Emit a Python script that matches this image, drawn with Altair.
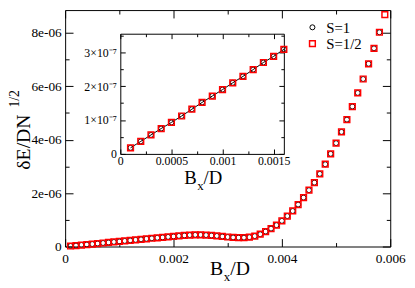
import altair as alt
import pandas as pd

# ---------------- data ----------------
bx_main = [0.0001, 0.0002, 0.0003, 0.0004, 0.0005, 0.0006, 0.0007, 0.0008, 0.0009, 0.0010,
           0.0011, 0.0012, 0.0013, 0.0014, 0.0015, 0.0016, 0.0017, 0.0018, 0.0019, 0.0020,
           0.0021, 0.0022, 0.0023, 0.0024, 0.0025, 0.0026, 0.0027, 0.0028, 0.0029, 0.0030,
           0.0031, 0.0032, 0.0033, 0.0034, 0.0035, 0.0036, 0.0037, 0.0038, 0.0039, 0.0040,
           0.0041, 0.0042, 0.0043, 0.0044, 0.0045, 0.0046, 0.0047, 0.0048, 0.0049, 0.0050,
           0.0051, 0.0052, 0.0053, 0.0054, 0.0055, 0.0056, 0.0057, 0.0058, 0.0059]
# dE/DN^(1/2) in units of 1e-6
de_half = [0.019, 0.037, 0.056, 0.075, 0.093, 0.112, 0.132, 0.152, 0.171, 0.190,
           0.210, 0.229, 0.249, 0.270, 0.288, 0.309, 0.326, 0.343, 0.360, 0.378,
           0.397, 0.414, 0.428, 0.436, 0.436, 0.428, 0.414, 0.396, 0.376, 0.356,
           0.340, 0.330, 0.332, 0.350, 0.39, 0.46, 0.56, 0.67, 0.80, 0.96,
           1.14, 1.33, 1.57, 1.83, 2.11, 2.39, 2.72, 3.08, 3.47, 3.87,
           4.29, 4.75, 5.24, 5.75, 6.27, 6.84, 7.42, 8.02, 8.68]
de_one = de_half[:58]
bx_one = bx_main[:58]

bx_inset = [0.0001, 0.0002, 0.0003, 0.0004, 0.0005, 0.0006, 0.0007, 0.0008,
            0.0009, 0.0010, 0.0011, 0.0012, 0.0013, 0.0014, 0.0015, 0.0016]
# in units of 1e-7
de_inset = [0.18, 0.37, 0.56, 0.75, 0.93, 1.12, 1.32, 1.52,
            1.71, 1.90, 2.10, 2.29, 2.49, 2.70, 2.88, 3.09]

series_names = ["S=1", "S=1/2"]

main_x_major = [0, 0.002, 0.004, 0.006]
main_x_all = [0, 0.001, 0.002, 0.003, 0.004, 0.005, 0.006]
main_y_major = [0, 2, 4, 6, 8]
main_y_all = [0, 1, 2, 3, 4, 5, 6, 7, 8]
in_x_major = [0, 0.0005, 0.001, 0.0015]
in_x_all = [0, 0.00025, 0.0005, 0.00075, 0.001, 0.00125, 0.0015]
in_y_major = [0, 1, 2, 3]
in_y_all = [0, 0.5, 1, 1.5, 2, 2.5, 3, 3.5]

main_df = pd.DataFrame({
    "bx": bx_one + bx_main,
    "dE": de_one + de_half,
    "series": [series_names[0]] * len(bx_one) + [series_names[1]] * len(bx_main),
})
inset_df = pd.DataFrame({"bx": bx_inset, "dE": de_inset})
legend_df = pd.DataFrame({"series": series_names})

# ---------------- layout ----------------
W, H = 330, 240
FONT = "Liberation Serif"
IX0, IX1 = 56, 222      # inset frame (plot px)
IY0, IY1 = 24, 146

xs_main = alt.Scale(domain=[0, 0.006], nice=False, zero=False)
ys_main = alt.Scale(domain=[0, 8.85], nice=False, zero=False)
xs_in = alt.Scale(domain=[0, 0.0016], range=[IX0, IX1], nice=False, zero=False)
ys_in = alt.Scale(domain=[0, 3.55], range=[IY1, IY0], nice=False, zero=False)

shape_scale = alt.Scale(domain=series_names, range=["circle", "square"])
color_scale = alt.Scale(domain=series_names, range=["black", "red"])
size_scale = alt.Scale(domain=series_names, range=[26, 34])
sw_scale = alt.Scale(domain=series_names, range=[1.0, 1.5])


def tick_axis(orient, offset, values, test, big, small, domain=False):
    return alt.Axis(orient=orient, offset=offset, values=values, labels=False,
                    title=None, grid=False, domain=domain, domainColor="black",
                    domainWidth=1, tickColor="black", tickWidth=1,
                    tickSize={"condition": {"test": test, "value": big}, "value": small})


mx_test = "round(datum.value*1000) % 2 == 0"
my_test = "round(datum.value) % 2 == 0"
ix_test = "round(datum.value*4000) % 2 == 0"
iy_test = "round(datum.value*2) % 2 == 0"

main_pts = alt.Chart(main_df).mark_point(filled=False, opacity=1).encode(
    x=alt.X("bx:Q", scale=xs_main,
            axis=alt.Axis(orient="bottom", values=main_x_major, format="~f", ticks=False,
                          domain=False, grid=False, title=None, labelFont=FONT,
                          labelFontSize=13.5, labelColor="black", labelPadding=5,
                          labelFlush=False, labelOverlap=False)),
    y=alt.Y("dE:Q", scale=ys_main,
            axis=alt.Axis(orient="left", values=main_y_major,
                          labelExpr="datum.value == 0 ? '0' : datum.value + 'e-06'",
                          ticks=False, domain=False, grid=False, title=None,
                          labelFont=FONT, labelFontSize=13.5, labelColor="black",
                          labelPadding=4, labelFlush=False, labelOverlap=False)),
    shape=alt.Shape("series:N", scale=shape_scale, legend=None),
    color=alt.Color("series:N", scale=color_scale, legend=None),
    size=alt.Size("series:N", scale=size_scale, legend=None),
    strokeWidth=alt.StrokeWidth("series:N", scale=sw_scale, legend=None),
)

main_ticks_a = alt.Chart(main_df).mark_point(opacity=0).encode(
    x=alt.X("bx:Q", scale=xs_main, axis=tick_axis("top", -H, main_x_all, mx_test, 8, 4)),
    y=alt.Y("dE:Q", scale=ys_main, axis=tick_axis("right", -W, main_y_all, my_test, 8, 4)),
)
main_ticks_b = alt.Chart(main_df).mark_point(opacity=0).encode(
    x=alt.X("bx:Q", scale=xs_main, axis=tick_axis("bottom", -H, main_x_all, mx_test, 8, 4)),
    y=alt.Y("dE:Q", scale=ys_main, axis=tick_axis("left", -W, main_y_all, my_test, 8, 4)),
)

# legend drawn from the series list
leg_y = alt.Y("series:N", scale=alt.Scale(type="point", domain=series_names, range=[17.5, 34],
                                          padding=0), axis=None)
legend_sym = alt.Chart(legend_df).mark_point(filled=False, opacity=1).encode(
    x=alt.value(251), y=leg_y,
    shape=alt.Shape("series:N", scale=shape_scale, legend=None),
    color=alt.Color("series:N", scale=color_scale, legend=None),
    size=alt.Size("series:N", scale=size_scale, legend=None),
    strokeWidth=alt.StrokeWidth("series:N", scale=sw_scale, legend=None),
)
legend_txt = alt.Chart(legend_df).mark_text(
    font=FONT, fontSize=15, color="black", align="left", baseline="middle", dy=1
).encode(x=alt.value(265), y=leg_y, text="series:N")

inset_line = alt.Chart(inset_df).mark_line(color="black", strokeWidth=1).encode(
    x=alt.X("bx:Q", scale=xs_in,
            axis=alt.Axis(orient="bottom", offset=-(H - IY1), values=in_x_major, format="~f",
                          ticks=False, domain=False, grid=False, title=None, labelFont=FONT,
                          labelFontSize=12, labelColor="black", labelPadding=2,
                          labelFlush=False, labelOverlap=False)),
    y=alt.Y("dE:Q", scale=ys_in,
            axis=alt.Axis(orient="left", offset=-IX0, values=in_y_major,
                          labelExpr="datum.value == 0 ? '0' : datum.value + '×10⁻⁷'",
                          ticks=False, domain=False, grid=False, title=None, labelFont=FONT,
                          labelFontSize=12, labelColor="black", labelPadding=4,
                          labelFlush=False, labelOverlap=False)),
)
inset_circ = alt.Chart(inset_df).mark_point(shape="circle", filled=False, color="black",
                                             size=26, strokeWidth=1, opacity=1).encode(
    x=alt.X("bx:Q", scale=xs_in, axis=tick_axis("top", -IY1, in_x_all, ix_test, 5, 3, True)),
    y=alt.Y("dE:Q", scale=ys_in, axis=tick_axis("right", -(W - IX0), in_y_all, iy_test, 5, 3, True)),
)
inset_sq = alt.Chart(inset_df).mark_point(shape="square", filled=False, color="red",
                                           size=34, strokeWidth=1.5, opacity=1).encode(
    x=alt.X("bx:Q", scale=xs_in, axis=tick_axis("bottom", -(H - IY0), in_x_all, ix_test, 5, 3, True)),
    y=alt.Y("dE:Q", scale=ys_in, axis=tick_axis("left", -IX1, in_y_all, iy_test, 5, 3, True)),
)


def label(txt, x, y, size, angle=0):
    return alt.Chart(pd.DataFrame({"t": [txt]})).mark_text(
        font=FONT, fontSize=size, color="black", align="left", baseline="alphabetic",
        angle=angle).encode(x=alt.value(x), y=alt.value(y), text="t:N")


titles = [
    label("B", 147, 269, 20), label("x", 161, 275, 13), label("/D", 167.5, 269, 20),
    label("B", 121, 177, 19), label("x", 134, 183, 13), label("/D", 140.5, 177, 19),
    label("δE/DN", -36, 162, 20, 270), label("1/2", -47, 99, 14, 270),
]

chart = alt.layer(
    main_ticks_a, main_ticks_b, main_pts, inset_line, inset_circ, inset_sq,
    legend_sym, legend_txt, *titles
).resolve_scale(
    x="independent", y="independent"
).properties(
    width=W, height=H,
    padding={"left": 58, "top": 0, "right": 17, "bottom": 40},
    autosize=alt.AutoSizeParams(type="none"),
    background="white",
).configure_view(stroke="black", strokeWidth=1)

chart.save("out.html", embed_options={"renderer": "svg", "actions": False})
